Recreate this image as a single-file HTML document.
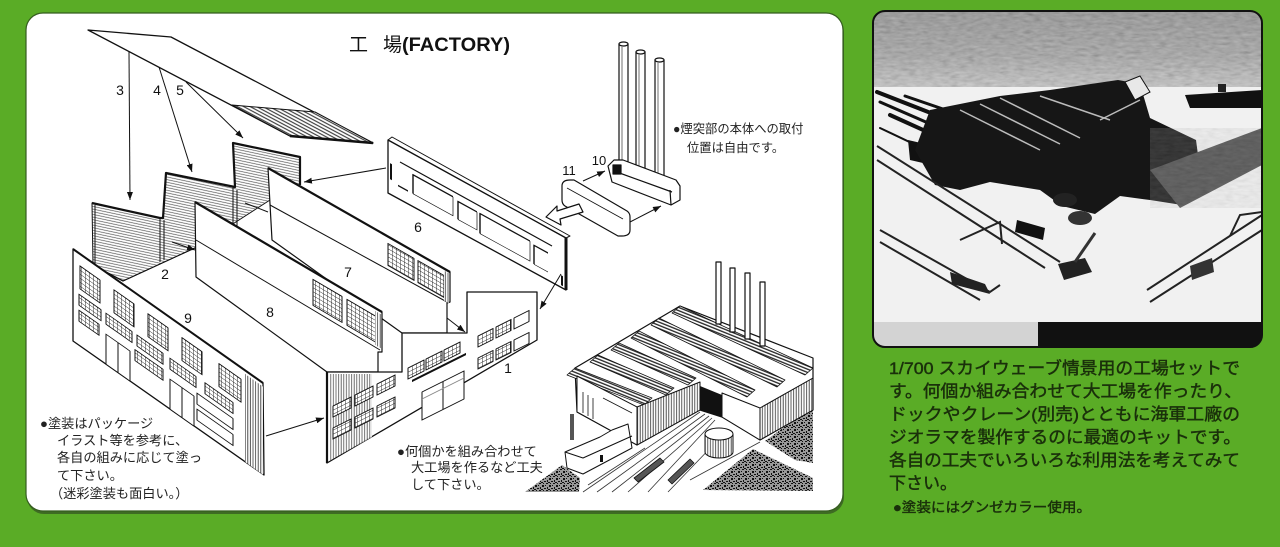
<!DOCTYPE html>
<html><head><meta charset="utf-8">
<style>
html,body{margin:0;padding:0;background:#5aac26;width:1280px;height:547px;overflow:hidden}
svg{display:block}
text{font-family:"Liberation Sans","Noto Sans CJK JP",sans-serif}
</style></head><body>
<svg width="1280" height="547" viewBox="0 0 1280 547" xmlns="http://www.w3.org/2000/svg">
<defs>
 <pattern id="grid" width="4" height="4" patternUnits="userSpaceOnUse"><rect width="4" height="4" fill="#fff"/><path d="M0 0H4M0 0V4" stroke="#222" stroke-width="0.9"/></pattern>
 <pattern id="hatch" width="6" height="2.6" patternUnits="userSpaceOnUse" patternTransform="rotate(12)"><rect width="6" height="2.6" fill="#fff"/><path d="M0 0.6H6" stroke="#555" stroke-width="0.7"/></pattern>
 <pattern id="hatchR" width="6" height="3" patternUnits="userSpaceOnUse" patternTransform="rotate(28)"><rect width="6" height="3" fill="#fff"/><path d="M0 0.7H6" stroke="#222" stroke-width="1"/></pattern>
 <pattern id="vhatch" width="2.6" height="6" patternUnits="userSpaceOnUse"><rect width="2.6" height="6" fill="#fff"/><path d="M0.6 0V6" stroke="#333" stroke-width="0.8"/></pattern>
 <pattern id="rhatch" width="3" height="3" patternUnits="userSpaceOnUse" patternTransform="rotate(22)"><rect width="3" height="3" fill="#fff"/><path d="M0 0.8H3" stroke="#222" stroke-width="1.3"/></pattern>
 <pattern id="gravel" width="7" height="7" patternUnits="userSpaceOnUse"><rect width="7" height="7" fill="#999"/><path d="M0 0h2v1H0zM3 2h2v2H3zM5 5h2v1H5zM1 4h1v2H1zM4 0h1v1H4zM6 2h1v1H6zM2 6h2v1H2z" fill="#111"/></pattern>
 <marker id="ah" markerWidth="8" markerHeight="6" refX="8" refY="3" orient="auto" markerUnits="userSpaceOnUse"><path d="M0,0 L8,3 L0,6 z" fill="#111"/></marker>
 <linearGradient id="skyg" x1="0" y1="0" x2="0" y2="1"><stop offset="0" stop-color="#858585"/><stop offset="0.6" stop-color="#9c9c9c"/><stop offset="1" stop-color="#c4c4c4"/></linearGradient>
 <filter id="nz" x="0" y="0" width="100%" height="100%"><feTurbulence type="fractalNoise" baseFrequency="0.12 0.35" numOctaves="2" seed="4"/><feColorMatrix type="matrix" values="0.33 0.33 0.33 0 0  0.33 0.33 0.33 0 0  0.33 0.33 0.33 0 0  0 0 0 0 1"/></filter>
 <clipPath id="photoclip"><rect x="873" y="11" width="389" height="336" rx="12"/></clipPath>
</defs>

<rect width="1280" height="547" fill="#5aac26"/>

<!-- left white panel -->
<rect x="27" y="15" width="817" height="499" rx="17" fill="#3e6b23"/>
<rect x="26" y="13" width="817" height="498" rx="17" fill="#fff" stroke="#355d1f" stroke-width="1.2"/>

<!-- Title -->
<text x="349" y="51" font-size="19" fill="#111">工</text>
<text x="383" y="51" font-size="19" fill="#111">場</text>
<text x="402" y="51" font-size="19" font-weight="bold" fill="#111" textLength="108" lengthAdjust="spacingAndGlyphs">(FACTORY)</text>

<g stroke-linejoin="round">
<!-- roof plate -->
<polygon points="88,30 171,37 373,143 290,136" fill="#fff" stroke="#111" stroke-width="1.3"/>
<polygon points="232,105 315,112 373,143 290,136" fill="url(#hatchR)" stroke="#111" stroke-width="1"/>
<line x1="290" y1="136" x2="373" y2="143" stroke="#111" stroke-width="2.5"/>

<g stroke="#111" stroke-width="1" fill="none">
<line x1="129" y1="52" x2="130" y2="200" marker-end="url(#ah)"/>
<line x1="159" y1="67" x2="192" y2="172" marker-end="url(#ah)"/>
<line x1="186" y1="82" x2="243" y2="138" marker-end="url(#ah)"/>
</g>

<!-- back sawtooth wall -->
<polygon points="92,203 160,218 163,218 166,173 235,187 233,143 300,157 300,185 270,200 197,247 123,281 93,265" fill="url(#hatch)" stroke="#111" stroke-width="1"/>
<polyline points="92,203 160,218 163,218 166,173 235,187 233,143 300,157 300,185" fill="none" stroke="#111" stroke-width="2.2"/>
<g stroke="#111" stroke-width="1">
<line x1="160" y1="218" x2="160" y2="262"/><line x1="164" y1="220" x2="164" y2="260"/>
<line x1="233" y1="187" x2="233" y2="230"/><line x1="237" y1="190" x2="237" y2="228"/>
<line x1="95" y1="205" x2="95" y2="266"/>
<line x1="93" y1="265" x2="123" y2="281"/>
<line x1="123" y1="281" x2="197" y2="247"/>
<line x1="172" y1="242" x2="195" y2="250" marker-end="url(#ah)"/>
<line x1="245" y1="203" x2="268" y2="212" />
</g>

<!-- panel 7 -->
<polygon points="268,168 450,272 450,302 447,303 447,333 402,333 272,240" fill="#fff" stroke="#111" stroke-width="1.2"/>
<line x1="268" y1="168" x2="450" y2="272" stroke="#111" stroke-width="2.2"/>
<line x1="270" y1="205" x2="447" y2="302" stroke="#111" stroke-width="1"/>
<g transform="matrix(1,0.571,0,1,268,168)">
 <rect x="120" y="7" width="26" height="22" fill="url(#grid)" stroke="#111" stroke-width="1"/>
 <rect x="150" y="7" width="26" height="22" fill="url(#grid)" stroke="#111" stroke-width="1"/>
 <rect x="176" y="2" width="5" height="30" fill="url(#vhatch)"/>
</g>
<line x1="447" y1="318" x2="465" y2="332" stroke="#111" stroke-width="1" marker-end="url(#ah)"/>

<!-- panel 8 -->
<polygon points="195,202 382,312 382,352 378,352 378,372 327,372 196,277" fill="#fff" stroke="#111" stroke-width="1.2"/>
<line x1="195" y1="202" x2="382" y2="312" stroke="#111" stroke-width="2.2"/>
<line x1="196" y1="240" x2="380" y2="350" stroke="#111" stroke-width="1"/>
<g transform="matrix(1,0.588,0,1,195,202)">
 <rect x="118" y="8" width="29" height="26" fill="url(#grid)" stroke="#111" stroke-width="1"/>
 <rect x="152" y="8" width="29" height="26" fill="url(#grid)" stroke="#111" stroke-width="1"/>
 <rect x="180" y="3" width="6" height="34" fill="url(#vhatch)"/>
</g>

<!-- wall 9 -->
<polygon points="73,249 263,383 264,475 73,341" fill="#fff" stroke="#111" stroke-width="1.3"/>
<line x1="73" y1="249" x2="263" y2="383" stroke="#111" stroke-width="2"/>
<g transform="matrix(1,0.703,0,1,73,249)" stroke="#111" stroke-width="1">
 <rect x="172" y="4" width="18" height="88" fill="url(#vhatch)" stroke="none"/>
 <rect x="7" y="12" width="20" height="23" fill="url(#grid)"/>
 <rect x="41" y="12" width="20" height="23" fill="url(#grid)"/>
 <rect x="75" y="12" width="20" height="23" fill="url(#grid)"/>
 <rect x="109" y="12" width="20" height="23" fill="url(#grid)"/>
 <rect x="146" y="12" width="22" height="23" fill="url(#grid)"/>
 <rect x="6" y="41" width="22" height="11" fill="url(#grid)"/>
 <rect x="33" y="41" width="26" height="11" fill="url(#grid)"/>
 <rect x="64" y="41" width="26" height="11" fill="url(#grid)"/>
 <rect x="97" y="41" width="26" height="11" fill="url(#grid)"/>
 <rect x="132" y="41" width="28" height="11" fill="url(#grid)"/>
 <rect x="6" y="57" width="20" height="11" fill="url(#grid)"/>
 <rect x="62" y="57" width="28" height="11" fill="url(#grid)"/>
 <rect x="124" y="57" width="36" height="11" fill="#fff"/>
 <rect x="124" y="73" width="36" height="11" fill="#fff"/>
 <rect x="33" y="62" width="24" height="30" fill="#fff"/>
 <line x1="45" y1="62" x2="45" y2="92"/>
 <rect x="97" y="62" width="24" height="30" fill="#fff"/>
 <line x1="109" y1="62" x2="109" y2="92"/>
</g>

<!-- wall 1 -->
<polygon points="327,372 402,372 402,333 467,333 467,292 537,292 537,340 327,463" fill="#fff" stroke="#111" stroke-width="1.3"/>
<polygon points="329,374 372,374 372,437 329,461" fill="url(#vhatch)" opacity="0.85"/>
<line x1="327" y1="372" x2="327" y2="463" stroke="#111" stroke-width="2.2"/>
<g transform="matrix(1,-0.5,0,1,333,406)" stroke="#111" stroke-width="1">
 <rect x="0" y="0" width="18" height="11" fill="url(#grid)"/>
 <rect x="22" y="0" width="18" height="11" fill="url(#grid)"/>
 <rect x="44" y="0" width="18" height="11" fill="url(#grid)"/>
 <rect x="0" y="22" width="18" height="11" fill="url(#grid)"/>
 <rect x="22" y="22" width="18" height="11" fill="url(#grid)"/>
 <rect x="44" y="22" width="18" height="11" fill="url(#grid)"/>
</g>
<g transform="matrix(1,-0.5,0,1,408,368)" stroke="#111" stroke-width="1">
 <rect x="0" y="0" width="16" height="11" fill="url(#grid)"/>
 <rect x="18" y="0" width="16" height="11" fill="url(#grid)"/>
 <rect x="36" y="0" width="16" height="11" fill="url(#grid)"/>
 <line x1="4" y1="15" x2="58" y2="15" stroke-width="2.2"/>
</g>
<g transform="matrix(1,-0.5,0,1,422,392)" stroke="#111" stroke-width="1">
 <rect x="0" y="0" width="42" height="28" fill="#fff"/>
 <line x1="21" y1="0" x2="21" y2="28"/>
 <line x1="0" y1="7" x2="42" y2="7" stroke="#888"/>
</g>
<g transform="matrix(1,-0.5,0,1,478,336)" stroke="#111" stroke-width="1">
 <rect x="0" y="0" width="15" height="11" fill="url(#grid)"/>
 <rect x="18" y="0" width="15" height="11" fill="url(#grid)"/>
 <rect x="36" y="0" width="15" height="11" fill="#fff"/>
 <rect x="0" y="22" width="15" height="11" fill="url(#grid)"/>
 <rect x="18" y="22" width="15" height="11" fill="url(#grid)"/>
 <rect x="36" y="22" width="15" height="11" fill="#fff"/>
</g>

<!-- wall 6 -->
<polygon points="388,140 392,137 570,236 566,238" fill="#fff" stroke="#111" stroke-width="1"/>
<polygon points="388,140 566,238 566,290 388,193" fill="#fff" stroke="#111" stroke-width="1.3"/>
<line x1="566" y1="238" x2="566" y2="290" stroke="#111" stroke-width="3"/>
<line x1="400" y1="162" x2="552" y2="246" stroke="#111" stroke-width="1.2"/>
<g transform="matrix(1,0.55,0,1,388,140)" stroke="#111" stroke-width="1.4" fill="none">
 <path d="M25 40V21H65"/><path d="M25 40H65V21" stroke-width="0.7"/>
 <path d="M70 41V23H89"/><path d="M70 41H89V23" stroke-width="0.7"/>
 <path d="M92 43V23H142"/><path d="M92 43H142V23" stroke-width="0.7"/>
 <path d="M146 44V25H160"/><path d="M146 44H160" stroke-width="0.7"/>
 <line x1="10" y1="40" x2="20" y2="40"/>
 <line x1="3" y1="22" x2="3" y2="38" stroke-width="2"/>
 <line x1="174" y1="40" x2="174" y2="50" stroke-width="2"/>
</g>

<!-- chimney assembly -->
<g stroke="#111" stroke-width="1.2" fill="#fff">
 <rect x="619" y="44" width="9" height="126"/>
 <ellipse cx="623.5" cy="44" rx="4.5" ry="2"/>
 <line x1="622" y1="47" x2="622" y2="168" stroke-width="0.6"/>
 <rect x="636" y="52" width="9" height="126"/>
 <ellipse cx="640.5" cy="52" rx="4.5" ry="2"/>
 <line x1="639" y1="55" x2="639" y2="176" stroke-width="0.6"/>
 <rect x="655" y="60" width="9" height="126"/>
 <ellipse cx="659.5" cy="60" rx="4.5" ry="2"/>
 <line x1="658" y1="63" x2="658" y2="184" stroke-width="0.6"/>
 <polygon points="608,166 614,160 623,160 676,180 680,186 680,200 671,205 612,182"/>
 <line x1="614" y1="171" x2="672" y2="192"/>
 <line x1="670" y1="190" x2="671" y2="205"/>
 <rect x="613" y="165" width="8" height="9" fill="#111"/>
 <path d="M562,186 Q562,180 570,180 L574,180 L627,211 Q630,213 630,217 L630,230 Q630,236 622,236 L618,236 L565,206 Q562,204 562,200 Z"/>
 <line x1="567" y1="188" x2="623" y2="219" stroke-width="0.8"/>
 <polygon points="546,217 557,206 557,211 579,204 583,212 560,219 561,225"/>
</g>
<g stroke="#111" stroke-width="1" fill="none">
 <line x1="583" y1="181" x2="605" y2="171" marker-end="url(#ah)"/>
 <line x1="630" y1="222" x2="661" y2="206" marker-end="url(#ah)"/>
 <line x1="386" y1="168" x2="304" y2="182" marker-end="url(#ah)"/>
 <line x1="561" y1="274" x2="540" y2="309" marker-end="url(#ah)"/>
 <line x1="266" y1="436" x2="324" y2="418" marker-end="url(#ah)"/>
</g>
</g>

<!-- part labels -->
<g font-size="14" fill="#111" text-anchor="middle">
<text x="120" y="95">3</text><text x="157" y="95">4</text><text x="180" y="95">5</text>
<text x="165" y="279">2</text><text x="188" y="323">9</text><text x="270" y="317">8</text>
<text x="348" y="277">7</text><text x="418" y="232">6</text><text x="508" y="373">1</text>
<text x="599" y="165" font-size="13">10</text><text x="569" y="175" font-size="13">11</text>
</g>

<g font-size="12.3" fill="#222">
<text x="673" y="133">●煙突部の本体への取付</text>
<text x="687" y="152">位置は自由です。</text>
</g>

<g font-size="13.2" fill="#222">
<text x="40" y="428">●塗装はパッケージ</text>
<text x="57" y="445">イラスト等を参考に、</text>
<text x="57" y="462">各自の組みに応じて塗っ</text>
<text x="57" y="480">て下さい。</text>
<text x="50" y="498">（迷彩塗装も面白い。）</text>
</g>
<g font-size="13.2" fill="#222">
<text x="397" y="456">●何個かを組み合わせて</text>
<text x="411" y="472">大工場を作るなど工夫</text>
<text x="411" y="489">して下さい。</text>
</g>

<!-- assembled model -->
<g stroke-linejoin="round">
 <polygon points="525,492 562,465 580,478 579,492" fill="url(#gravel)"/>
 <polygon points="765,441 813,406 813,463 795,460" fill="url(#gravel)"/>
 <polygon points="703,490 753,449 813,478 813,491" fill="url(#gravel)"/>
 <g stroke="#333" stroke-width="0.8">
  <line x1="583" y1="492" x2="700" y2="412"/><line x1="597" y1="492" x2="705" y2="414"/>
  <line x1="612" y1="492" x2="709" y2="416"/><line x1="628" y1="492" x2="712" y2="418"/>
  <line x1="648" y1="492" x2="715" y2="420"/><line x1="668" y1="492" x2="718" y2="440"/>
  <line x1="588" y1="485" x2="645" y2="448"/><line x1="690" y1="480" x2="760" y2="442"/>
 </g>
 <polygon points="634,478 660,458 664,462 638,482" fill="#555" stroke="#111" stroke-width="0.8"/>
 <polygon points="668,480 690,459 694,463 672,484" fill="#555" stroke="#111" stroke-width="0.8"/>
 <polygon points="575,368 680,306 813,358 813,410 760,440 722,417 700,410 637,445 577,412" fill="#fff" stroke="#111" stroke-width="1.2"/>
 <g fill="url(#rhatch)" stroke="#111" stroke-width="0.8">
  <polygon points="575,368 652,398 644,405 567,375"/>
  <polygon points="598,355 674,388 666,395 590,362"/>
  <polygon points="619,343 696,378 688,385 611,350"/>
  <polygon points="639,331 755,390 747,397 631,338"/>
  <polygon points="659,318 785,380 777,387 651,325"/>
  <polygon points="680,306 813,368 805,375 672,313"/>
 </g>
 <polygon points="577,376 637,407 637,445 577,412" fill="#fff" stroke="#111" stroke-width="1"/>
 <g stroke="#111" stroke-width="0.8"><line x1="583" y1="392" x2="583" y2="413"/><line x1="588" y1="395" x2="588" y2="416"/><line x1="593" y1="398" x2="593" y2="419"/><line x1="603" y1="398" x2="632" y2="413"/></g>
 <polygon points="637,407 700,382 700,410 637,445" fill="url(#vhatch)" stroke="#111" stroke-width="1"/>
 <polygon points="700,386 722,395 722,417 700,410" fill="#111"/>
 <polygon points="722,393 760,408 760,440 722,417" fill="#fff" stroke="#111" stroke-width="1"/>
 <polygon points="760,408 813,378 813,410 760,440" fill="url(#vhatch)" stroke="#111" stroke-width="1"/>
 <g fill="#fff" stroke="#111" stroke-width="1.2">
  <rect x="716" y="262" width="5" height="62"/><rect x="730" y="268" width="5" height="64"/>
  <rect x="745" y="273" width="5" height="66"/><rect x="760" y="282" width="5" height="64"/>
 </g>
 <polygon points="565,452 600,437 612,430 628,424 632,448 583,474 567,468" fill="#fff" stroke="#111" stroke-width="1"/>
 <polyline points="565,452 583,458 632,436" fill="none" stroke="#111" stroke-width="1"/>
 <rect x="600" y="455" width="3" height="7" fill="#111"/>
 <rect x="570" y="414" width="4" height="26" fill="#555"/>
 <path d="M705,434 L705,452 A14,6 0 0 0 733,452 L733,434" fill="url(#vhatch)" stroke="#111" stroke-width="1"/>
 <ellipse cx="719" cy="434" rx="14" ry="6" fill="#fff" stroke="#111" stroke-width="1"/>
</g>

<!-- photo panel -->
<g clip-path="url(#photoclip)">
 <rect x="873" y="11" width="389" height="336" fill="#f1f1f1"/>
 <rect x="873" y="11" width="389" height="76" fill="url(#skyg)"/>
 <rect x="873" y="11" width="389" height="76" filter="url(#nz)" opacity="0.4"/>
 <g stroke="#111" stroke-linecap="round">
  <line x1="877" y1="92" x2="1000" y2="140" stroke-width="4"/>
  <line x1="880" y1="102" x2="990" y2="150" stroke-width="3"/>
  <line x1="890" y1="115" x2="985" y2="158" stroke-width="4"/>
  <line x1="905" y1="96" x2="1010" y2="132" stroke-width="3"/>
  <line x1="880" y1="128" x2="960" y2="166" stroke-width="2"/>
 </g>
 <polygon points="908,140 960,152 962,172 910,160" fill="#111"/>
 <polygon points="930,110 1000,96 1050,90 1118,80 1140,84 1150,118 1196,140 1200,170 1182,205 1150,200 1120,196 1095,214 1062,206 1040,190 990,182 960,190 935,185 915,150" fill="#161616"/>
 <g stroke="#bbb" stroke-width="1.5">
  <line x1="960" y1="110" x2="1040" y2="150"/><line x1="980" y1="104" x2="1060" y2="144"/>
  <line x1="1000" y1="98" x2="1080" y2="138"/><line x1="1040" y1="96" x2="1110" y2="120"/>
  <line x1="1100" y1="120" x2="1140" y2="100"/>
 </g>
 <polygon points="1125,82 1140,76 1150,92 1135,100" fill="#e8e8e8" stroke="#111"/>
 <polygon points="1185,95 1262,90 1262,108 1190,108" fill="#111"/>
 <rect x="1218" y="84" width="8" height="8" fill="#222"/>
 <polygon points="1150,170 1262,128 1262,165 1180,208" fill="#4a4a4a"/>
 <polygon points="1150,170 1262,128 1262,165 1180,208" filter="url(#nz)" opacity="0.2"/>
 <g stroke="#222" stroke-width="2" fill="none">
  <line x1="877" y1="146" x2="1060" y2="262"/>
  <line x1="877" y1="160" x2="1045" y2="268"/>
  <polyline points="880,230 990,292 1000,285"/>
  <polyline points="880,242 980,300"/>
  <polyline points="960,240 1000,222 1002,244"/>
  <line x1="1147" y1="290" x2="1262" y2="215"/>
  <line x1="1150" y1="302" x2="1262" y2="230"/>
  <polyline points="1230,236 1240,215 1262,212"/>
 </g>
 <polygon points="950,272 985,284 990,294 952,284" fill="#222"/>
 <polygon points="1190,266 1212,258 1214,272 1192,280" fill="#333"/>
 <polygon points="1017,220 1045,228 1043,240 1015,232" fill="#111"/>
 <ellipse cx="1065" cy="200" rx="12" ry="7" fill="#222"/>
 <ellipse cx="1080" cy="218" rx="12" ry="7" fill="#333"/>
 <polygon points="1058,264 1085,258 1092,272 1064,280" fill="#222"/>
 <line x1="1075" y1="262" x2="1095" y2="233" stroke="#333" stroke-width="3"/>
 <rect x="873" y="322" width="165" height="25" fill="#d3d3d3"/>
 <rect x="1038" y="322" width="224" height="25" fill="#111"/>
</g>
<rect x="873" y="11" width="389" height="336" rx="12" fill="none" stroke="#111" stroke-width="2"/>

<!-- right description -->
<g font-size="17" fill="#1a300b" stroke="#1a300b" stroke-width="0.45">
<text x="889" y="374" textLength="351" lengthAdjust="spacingAndGlyphs">1/700 スカイウェーブ情景用の工場セットで</text>
<text x="889" y="397" textLength="353" lengthAdjust="spacingAndGlyphs">す。何個か組み合わせて大工場を作ったり、</text>
<text x="889" y="420" textLength="351" lengthAdjust="spacingAndGlyphs">ドックやクレーン(別売)とともに海軍工廠の</text>
<text x="889" y="443" textLength="352" lengthAdjust="spacingAndGlyphs">ジオラマを製作するのに最適のキットです。</text>
<text x="889" y="466" textLength="351" lengthAdjust="spacingAndGlyphs">各自の工夫でいろいろな利用法を考えてみて</text>
<text x="889" y="489">下さい。</text>
<text x="893" y="512" font-size="13.5" textLength="198" lengthAdjust="spacingAndGlyphs">●塗装にはグンゼカラー使用。</text>
</g>
</svg>
</body></html>
